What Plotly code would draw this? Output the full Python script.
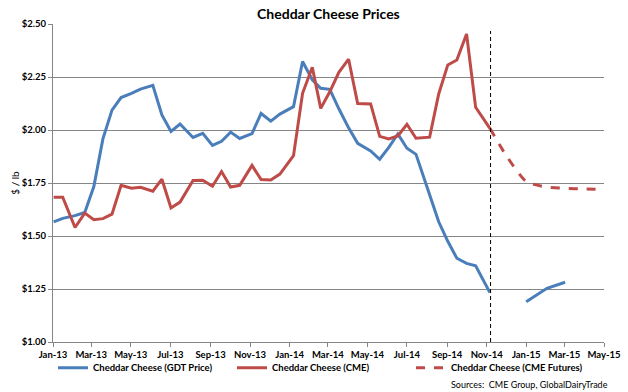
import plotly.graph_objects as go

# ---- data ----
dates = [
    "2013-01-02", "2013-01-16", "2013-02-04", "2013-02-19", "2013-03-05", "2013-03-19",
    "2013-04-02", "2013-04-16", "2013-05-02", "2013-05-16", "2013-06-04", "2013-06-18",
    "2013-07-02", "2013-07-16", "2013-08-05", "2013-08-20", "2013-09-04", "2013-09-18",
    "2013-10-02", "2013-10-16", "2013-11-04", "2013-11-18", "2013-12-03", "2013-12-17",
    "2014-01-07", "2014-01-21", "2014-02-05", "2014-02-18", "2014-03-04", "2014-03-18",
    "2014-04-02", "2014-04-16", "2014-05-06", "2014-05-20", "2014-06-03", "2014-06-17",
    "2014-07-01", "2014-07-15", "2014-08-05", "2014-08-19", "2014-09-02", "2014-09-16",
    "2014-10-01", "2014-10-15", "2014-11-06",
]
gdt_price = [
    1.567, 1.583, 1.596, 1.611, 1.733, 1.958,
    2.094, 2.153, 2.173, 2.193, 2.211, 2.071,
    1.993, 2.028, 1.965, 1.984, 1.927, 1.947,
    1.990, 1.960, 1.983, 2.078, 2.042, 2.075,
    2.110, 2.323, 2.237, 2.197, 2.192, 2.100,
    2.010, 1.937, 1.901, 1.862, 1.918, 1.981,
    1.914, 1.885, 1.695, 1.567, 1.475, 1.395,
    1.371, 1.360, 1.233,
]
cme_price = [
    1.683, 1.683, 1.540, 1.608, 1.577, 1.582,
    1.603, 1.739, 1.725, 1.730, 1.711, 1.768,
    1.632, 1.660, 1.762, 1.763, 1.735, 1.804,
    1.731, 1.739, 1.833, 1.766, 1.764, 1.792,
    1.879, 2.173, 2.296, 2.102, 2.180, 2.272,
    2.334, 2.125, 2.123, 1.970, 1.958, 1.972,
    2.027, 1.961, 1.966, 2.170, 2.307, 2.330,
    2.453, 2.107, 2.008,
]
gdt_future_dates = ["2015-01-01", "2015-02-02", "2015-03-02"]
gdt_future_price = [1.190, 1.253, 1.282]

cme_future_dates = ["2014-11-06", "2014-12-01", "2015-01-01", "2015-02-01",
                    "2015-03-01", "2015-04-01", "2015-05-01"]
cme_future_price = [2.008, 1.880, 1.757, 1.731, 1.725, 1.722, 1.720]

current_date = "2014-11-07"

x_tick_vals = ["2013-01-01", "2013-03-01", "2013-05-01", "2013-07-01", "2013-09-01",
               "2013-11-01", "2014-01-01", "2014-03-01", "2014-05-01", "2014-07-01",
               "2014-09-01", "2014-11-01", "2015-01-01", "2015-03-01", "2015-05-01"]
x_tick_text = ["Jan-13", "Mar-13", "May-13", "Jul-13", "Sep-13", "Nov-13", "Jan-14",
               "Mar-14", "May-14", "Jul-14", "Sep-14", "Nov-14", "Jan-15", "Mar-15", "May-15"]

BLUE = "#4A7EBB"
RED = "#BE4B48"
FONT = "Lato"

gdt_x = dates + [None] + gdt_future_dates
gdt_y = gdt_price + [None] + gdt_future_price

fig = go.Figure()
fig.add_trace(go.Scatter(x=gdt_x, y=gdt_y, mode="lines", name="Cheddar Cheese (GDT Price)",
                         line=dict(color=BLUE, width=3), connectgaps=False))
fig.add_trace(go.Scatter(x=dates, y=cme_price, mode="lines", name="Cheddar Cheese (CME)",
                         line=dict(color=RED, width=3)))
fig.add_trace(go.Scatter(x=cme_future_dates, y=cme_future_price, mode="lines",
                         name="Cheddar Cheese (CME Futures)",
                         line=dict(color=RED, width=3, dash="dash", shape="spline", smoothing=0.6)))

fig.add_shape(type="line", xref="x", yref="y", x0=current_date, x1=current_date,
              y0=1.0, y1=2.467, line=dict(color="black", width=1, dash="4px,3px"))

fig.update_layout(
    width=628, height=392,
    margin=dict(l=53, r=24, t=24, b=50, autoexpand=False),
    paper_bgcolor="white", plot_bgcolor="white",
    font=dict(family=FONT, size=10, color="black"),
    title=dict(text="<b>Cheddar Cheese Prices</b>", x=0.523, xanchor="center",
               y=0.965, yanchor="middle", font=dict(family=FONT, size=14, color="black")),
    showlegend=True,
    legend=dict(orientation="h", x=0.0, xanchor="left", y=-0.035, yanchor="top",
                font=dict(family=FONT, size=9.5, color="black", weight="bold"),
                entrywidth=134, bgcolor="rgba(0,0,0,0)"),
    xaxis=dict(
        type="date", range=["2013-01-01", "2015-05-01"],
        tickmode="array", tickvals=x_tick_vals, ticktext=x_tick_text, tickangle=0,
        showgrid=False, showline=True, linecolor="#868686", linewidth=1,
        ticks="outside", ticklen=4, tickcolor="#868686",
        tickfont=dict(family=FONT, size=9.5, color="black", weight="bold"),
        zeroline=False, automargin=False,
    ),
    yaxis=dict(
        range=[1.0, 2.5], dtick=0.25, tick0=1.0, tickprefix="$", tickformat=".2f",
        showgrid=True, gridcolor="#868686", gridwidth=1,
        showline=True, linecolor="#868686", linewidth=1,
        ticks="outside", ticklen=4, tickcolor="#868686",
        tickfont=dict(family=FONT, size=9.5, color="black", weight="bold"),
        title=dict(text="$ / lb", font=dict(family=FONT, size=10, color="black"), standoff=0),
        zeroline=False, automargin=False,
    ),
)

fig.add_annotation(text="Sources:  CME Group, GlobalDairyTrade", xref="paper", yref="paper",
                   x=1.01, y=-0.11, xanchor="right", yanchor="top", showarrow=False,
                   font=dict(family=FONT, size=9, color="black"))

fig.write_html("out.html", config={"displayModeBar": False},
               post_script="document.body.style.margin='0';document.body.style.overflow='hidden';")
